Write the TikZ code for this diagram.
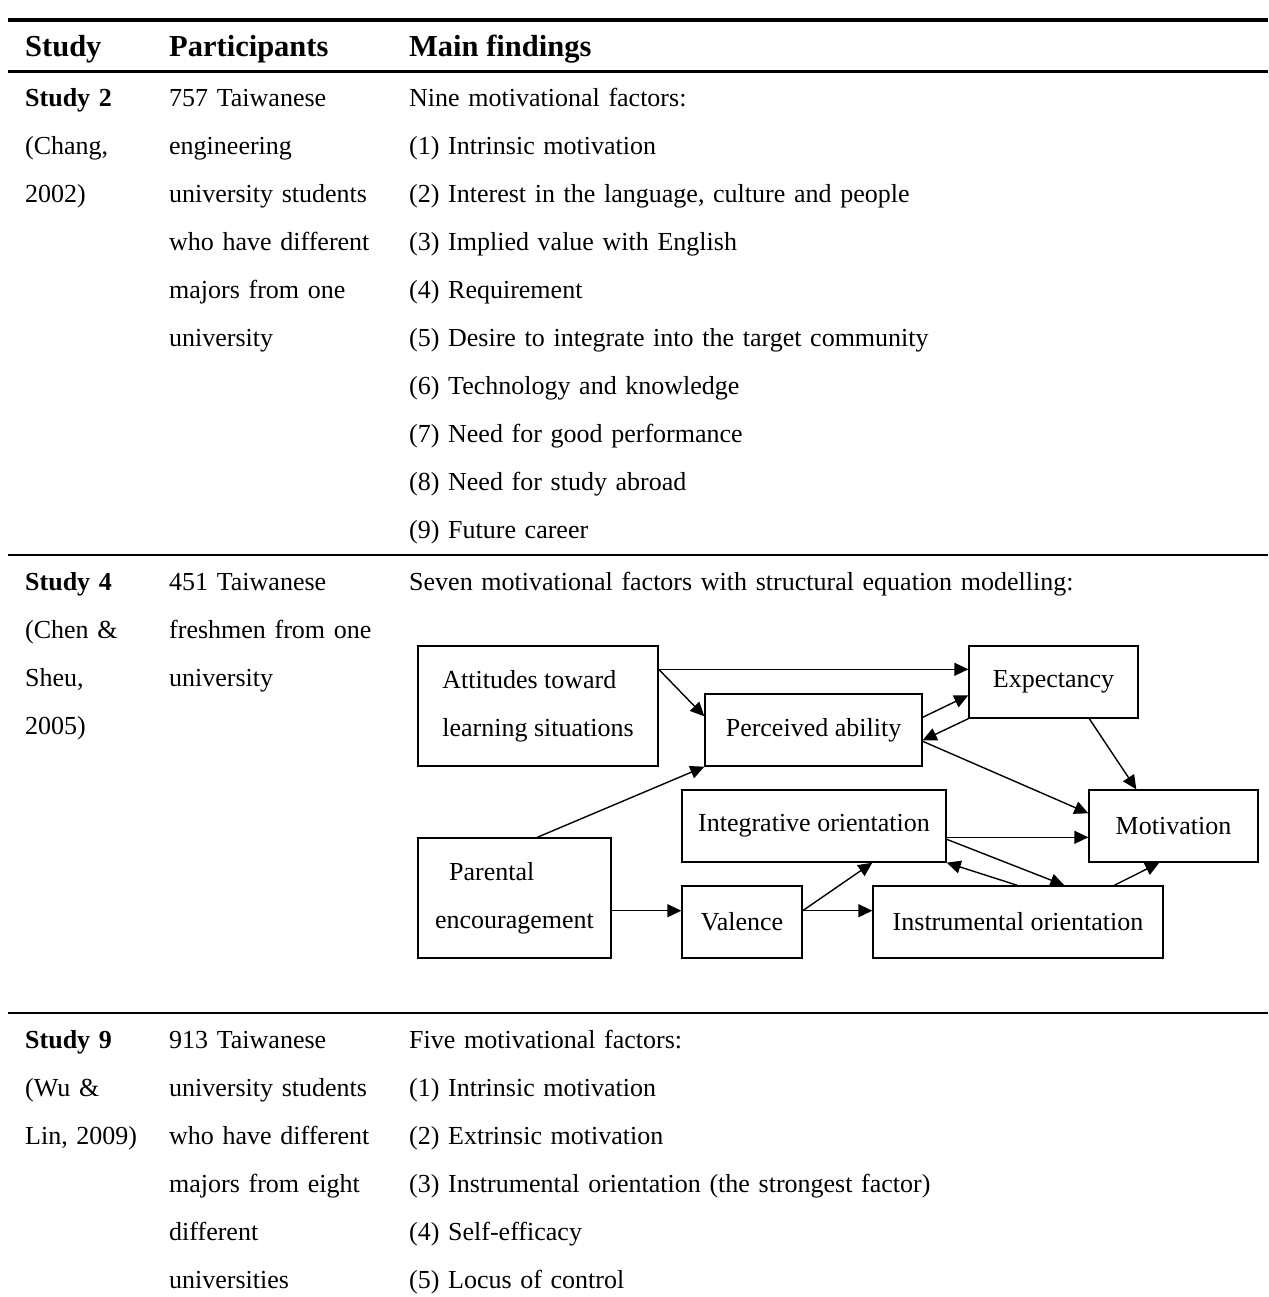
\documentclass[tikz,border=0pt]{standalone}
\usepackage{fontspec}
\setmainfont{Liberation Serif}
\usetikzlibrary{arrows.meta,positioning,calc}

\begin{document}
\begin{tikzpicture}[
    x=1pt, y=-1pt,
    cell/.style={anchor=base west, inner sep=0pt, text width=#1, align=left, font=\fontsize{26}{48}\selectfont},
    cell/.default=230pt,
    head/.style={anchor=base west, inner sep=0pt, font=\fontsize{30.5}{36}\selectfont\bfseries},
    factor/.style={rectangle, draw=black, line width=1.4pt, inner sep=0pt, align=center, font=\fontsize{26}{48}\selectfont},
    arrow/.style={-{Triangle[length=14pt, width=13pt]}, line width=1.4pt},
    rule/.style={line width=#1, line cap=butt}
]
    \fill[white] (0,0) rectangle (1268,1297);
    \useasboundingbox (0,0) rectangle (1268,1297);

    % table rules
    \draw[rule=4.5pt] (8,20) -- (1268,20);
    \draw[rule=3.3pt] (8,71.5) -- (1268,71.5);
    \draw[rule=2pt] (8,555) -- (1268,555);
    \draw[rule=2.4pt] (8,1013) -- (1268,1013);

    \node[head] (hstudy) at (25,57) {Study};
    \node[head] (hpart) at (169,57) {Participants};
    \node[head] (hmain) at (409,57) {Main findings};

    % Study 2
    \node[cell=140pt] (s2study) at (25,107) {\textbf{Study 2}\\(Chang,\\2002)};
    \node[cell] (s2part) at (169,107) {757 Taiwanese\\engineering\\university students\\who have different\\majors from one\\university};
    \node[cell=850pt] (s2main) at (409,107) {Nine motivational factors:\\(1) Intrinsic motivation\\(2) Interest in the language, culture and people\\(3) Implied value with English\\(4) Requirement\\(5) Desire to integrate into the target community\\(6) Technology and knowledge\\(7) Need for good performance\\(8) Need for study abroad\\(9) Future career};

    % Study 4
    \node[cell=140pt] (s4study) at (25,590) {\textbf{Study 4}\\(Chen \&\\Sheu,\\2005)};
    \node[cell] (s4part) at (169,590) {451 Taiwanese\\freshmen from one\\university};
    \node[cell=850pt] (s4main) at (409,590) {Seven motivational factors with structural equation modelling:};

    \node[factor, minimum width=240pt, minimum height=120pt, align=left] (att) at (538,706) {Attitudes toward\\learning situations};
    \node[factor, minimum width=217pt, minimum height=72pt] (pab) at (813.5,730) {Perceived ability};
    \node[factor, minimum width=169pt, minimum height=72pt] (exp) at (1053.5,682) {Expectancy};
    \node[factor, minimum width=169pt, minimum height=72pt] (mot) at (1173.5,826) {Motivation};
    \node[factor, minimum width=264pt, minimum height=72pt] (intg) at (814,826) {Integrative orientation};
    \node[factor, minimum width=193pt, minimum height=120pt, align=left] (par) at (514.5,898) {\hspace*{14pt}Parental\\encouragement};
    \node[factor, minimum width=120pt, minimum height=72pt] (val) at (742,922) {Valence};
    \node[factor, minimum width=290pt, minimum height=72pt] (ins) at (1018,922) {Instrumental orientation};

    \draw[arrow] ($(att.north east)+(0,24)$) -- ($(exp.north west)+(0,24)$);
    \draw[arrow] ($(att.north east)+(0,24)$) -- ($(pab.north west)+(0,23)$);
    \draw[arrow] ($(par.north west)+(120,0)$) -- (pab.south west);
    \draw[arrow] ($(par.south east)+(0,-48)$) -- ($(val.south west)+(0,-48)$);
    \draw[arrow] ($(val.south east)+(0,-48)$) -- ($(intg.south west)+(191,0)$);
    \draw[arrow] ($(val.south east)+(0,-48)$) -- ($(ins.south west)+(0,-48)$);
    \draw[arrow] ($(pab.north east)+(0,24)$) -- ($(exp.north west)+(0,50)$);
    \draw[arrow] (exp.south west) -- ($(pab.north east)+(0,47)$);
    \draw[arrow] ($(pab.north east)+(0,48)$) -- ($(mot.north west)+(0,24)$);
    \draw[arrow] ($(exp.south west)+(121,0)$) -- ($(mot.north west)+(48,0)$);
    \draw[arrow] ($(intg.north east)+(0,48)$) -- ($(mot.north west)+(0,48)$);
    \draw[arrow] ($(intg.north east)+(0,50)$) -- ($(ins.north west)+(192,0)$);
    \draw[arrow] ($(ins.north west)+(145,0)$) -- (intg.south east);
    \draw[arrow] ($(ins.north west)+(242,0)$) -- ($(mot.south west)+(71,0)$);

    % Study 9
    \node[cell=140pt] (s9study) at (25,1048) {\textbf{Study 9}\\(Wu \&\\Lin, 2009)};
    \node[cell] (s9part) at (169,1048) {913 Taiwanese\\university students\\who have different\\majors from eight\\different\\universities};
    \node[cell=850pt] (s9main) at (409,1048) {Five motivational factors:\\(1) Intrinsic motivation\\(2) Extrinsic motivation\\(3) Instrumental orientation (the strongest factor)\\(4) Self-efficacy\\(5) Locus of control};
\end{tikzpicture}
\end{document}
